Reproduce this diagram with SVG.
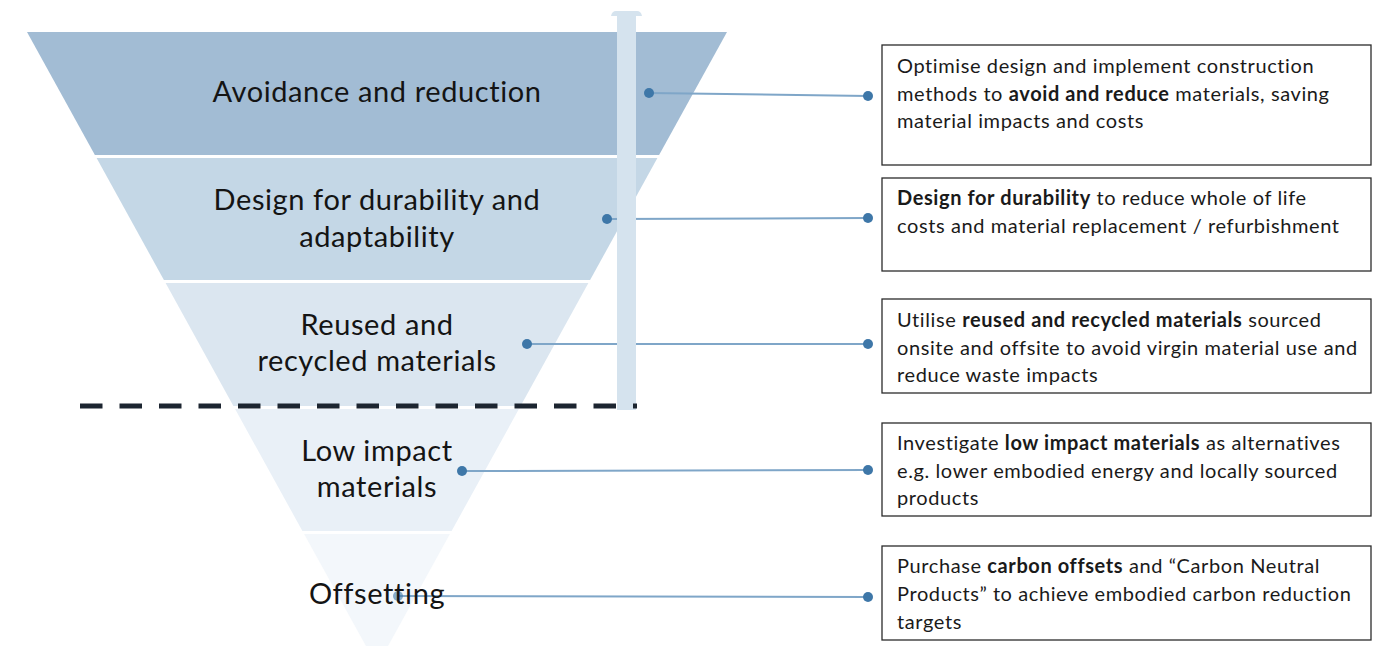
<svg xmlns="http://www.w3.org/2000/svg" width="1382" height="646" viewBox="0 0 1382 646">
  <style>
    .lbl { font-family: Lato, "Open Sans", "Liberation Sans", sans-serif; font-size: 29px; letter-spacing: 0.6px; fill: #141414; text-anchor: middle; }
    .txt { font-family: Lato, "Open Sans", "Liberation Sans", sans-serif; font-size: 20px; letter-spacing: 0.6px; fill: #1a1a1a; }
    .b { font-weight: bold; }
    .box { fill: #ffffff; stroke: #2b2b2b; stroke-width: 1.3; }
    .link { stroke: #7fa6c8; stroke-width: 2; fill: none; }
    .dot { fill: #3e77a8; }
  </style>
  <rect width="1382" height="646" fill="#ffffff"/>

  <!-- funnel bands -->
  <g id="band-avoidance">
    <polygon points="27,32 727,32 659.1,155 94.9,155" fill="#a2bcd4"/>
    <text class="lbl" x="377" y="102">Avoidance and reduction</text>
  </g>
  <g id="band-durability">
    <polygon points="96.6,158 657.4,158 590.1,280 163.9,280" fill="#c4d7e6"/>
    <text class="lbl" x="377" y="210">Design for durability and</text>
    <text class="lbl" x="377" y="247">adaptability</text>
  </g>
  <g id="band-reused">
    <polygon points="165.6,283 588.4,283 520.6,406 233.4,406" fill="#dbe6f0"/>
    <text class="lbl" x="377" y="335">Reused and</text>
    <text class="lbl" x="377" y="371">recycled materials</text>
  </g>
  <g id="band-lowimpact">
    <polygon points="235.1,409 518.9,409 451.6,531 302.4,531" fill="#e9f0f7"/>
    <text class="lbl" x="377" y="461">Low impact</text>
    <text class="lbl" x="377" y="497">materials</text>
  </g>
  <g id="band-offsetting">
    <polygon points="304.1,534 449.9,534 377,666" fill="#f3f7fb"/>
  </g>

  <!-- connectors -->
  <g id="connectors">
    <line class="link" x1="649" y1="93" x2="868" y2="96"/>
    <line class="link" x1="607" y1="219" x2="868" y2="218"/>
    <line class="link" x1="527" y1="344" x2="868" y2="344"/>
    <line class="link" x1="462" y1="471" x2="868" y2="470"/>
    <line class="link" x1="398" y1="596" x2="868" y2="597"/>
    <circle class="dot" cx="649" cy="93" r="5"/>
    <circle class="dot" cx="868" cy="96" r="5"/>
    <circle class="dot" cx="607" cy="219" r="5"/>
    <circle class="dot" cx="868" cy="218" r="5"/>
    <circle class="dot" cx="527" cy="344" r="5"/>
    <circle class="dot" cx="868" cy="344" r="5"/>
    <circle class="dot" cx="462" cy="471" r="5"/>
    <circle class="dot" cx="868" cy="470" r="5"/>
    <circle class="dot" cx="398" cy="596" r="5" opacity="0.6"/>
    <circle class="dot" cx="868" cy="597" r="5"/>
  </g>

  <!-- offsetting label sits over its connector -->
  <text class="lbl" x="377" y="604">Offsetting</text>

  <!-- vertical scale bar -->
  <g id="scale-bar" fill="#d5e3ee">
    <rect x="617" y="14" width="19" height="396"/>
    <path d="M611,16 Q612,11 616,11 L637,11 Q641,11 642,16 Z"/>
  </g>

  <!-- threshold line -->
  <line id="threshold" x1="80" y1="406" x2="637" y2="406" stroke="#1c2530" stroke-width="5" stroke-dasharray="22.5 17"/>

  <!-- description boxes -->
  <g id="box-avoidance">
    <rect class="box" x="882" y="45" width="489" height="120"/>
    <text class="txt" x="897" y="73">Optimise design and implement construction</text>
    <text class="txt" x="897" y="101">methods to <tspan class="b">avoid and reduce</tspan> materials, saving</text>
    <text class="txt" x="897" y="128">material impacts and costs</text>
  </g>
  <g id="box-durability">
    <rect class="box" x="882" y="178" width="489" height="93"/>
    <text class="txt" x="897" y="205"><tspan class="b">Design for durability</tspan> to reduce whole of life</text>
    <text class="txt" x="897" y="233">costs and material replacement / refurbishment</text>
  </g>
  <g id="box-reused">
    <rect class="box" x="882" y="299" width="489" height="94"/>
    <text class="txt" x="897" y="327">Utilise <tspan class="b">reused and recycled materials</tspan> sourced</text>
    <text class="txt" x="897" y="355">onsite and offsite to avoid virgin material use and</text>
    <text class="txt" x="897" y="382">reduce waste impacts</text>
  </g>
  <g id="box-lowimpact">
    <rect class="box" x="882" y="423" width="489" height="93"/>
    <text class="txt" x="897" y="450">Investigate <tspan class="b">low impact materials</tspan> as alternatives</text>
    <text class="txt" x="897" y="478">e.g. lower embodied energy and locally sourced</text>
    <text class="txt" x="897" y="505">products</text>
  </g>
  <g id="box-offsetting">
    <rect class="box" x="882" y="546" width="489" height="94"/>
    <text class="txt" x="897" y="573">Purchase <tspan class="b">carbon offsets</tspan> and “Carbon Neutral</text>
    <text class="txt" x="897" y="601">Products” to achieve embodied carbon reduction</text>
    <text class="txt" x="897" y="629">targets</text>
  </g>
</svg>
